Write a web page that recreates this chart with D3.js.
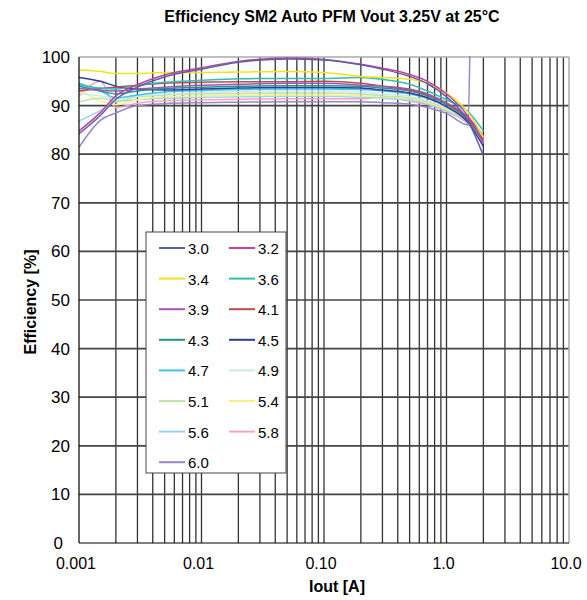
<!DOCTYPE html>
<html>
<head>
<meta charset="utf-8">
<script src="https://cdn.jsdelivr.net/npm/d3@7"></script>
<style>
  body { margin: 0; background: #fff; }
  text { font-family: "Liberation Sans Narrow", "Arial Narrow", "Liberation Sans", sans-serif; fill: #000; }
</style>
</head>
<body>
<svg id="chart" width="587" height="600"></svg>
<script>
// load current axis (A)
var iout = [0.001, 0.0015, 0.002, 0.003, 0.005, 0.01, 0.02, 0.05, 0.1, 0.2, 0.3, 0.5, 0.7, 1.0, 1.5, 2.0];
// 6.0V curve ends with a spike near 1.5A
var iout60 = [0.001, 0.0015, 0.002, 0.003, 0.005, 0.01, 0.02, 0.05, 0.1, 0.2, 0.3, 0.5, 0.7, 1.0, 1.5, 1.55];

var eff30 = [84.2, 88.0, 91.3, 93.8, 95.9, 97.5, 98.9, 99.6, 99.4, 98.4, 97.5, 96.0, 94.5, 91.8, 86.8, 79.7];
var eff32 = [84.8, 88.6, 92.0, 94.3, 96.3, 97.8, 99.1, 99.8, 99.5, 98.5, 97.7, 96.4, 95.0, 92.4, 87.8, 82.4];
var eff34 = [97.3, 97.0, 96.6, 96.6, 96.8, 96.8, 96.9, 97.0, 96.8, 96.0, 95.8, 95.4, 94.6, 92.6, 88.6, 83.5];
var eff36 = [94.3, 93.6, 93.4, 94.2, 94.8, 95.2, 95.5, 95.6, 95.6, 95.8, 95.4, 94.4, 93.0, 91.2, 88.8, 84.8];
var eff39 = [93.5, 93.2, 93.0, 93.4, 93.8, 94.2, 94.4, 94.6, 94.6, 94.2, 94.0, 93.4, 92.4, 90.6, 87.6, 83.8];
var eff41 = [93.0, 93.5, 93.8, 94.2, 94.6, 94.8, 94.9, 94.9, 95.0, 94.6, 94.0, 93.2, 92.2, 90.4, 87.2, 83.0];
var eff43 = [94.0, 93.0, 92.4, 93.0, 93.5, 93.8, 94.0, 94.1, 94.1, 94.0, 93.6, 93.0, 92.0, 90.2, 87.0, 82.5];
var eff45 = [95.8, 95.0, 94.0, 93.4, 93.2, 93.4, 93.6, 93.7, 93.7, 93.6, 93.2, 92.6, 91.6, 89.8, 86.5, 81.6];
var eff47 = [94.6, 93.0, 91.6, 92.2, 92.8, 93.1, 93.3, 93.4, 93.4, 93.3, 93.0, 92.4, 91.5, 89.8, 86.8, 82.8];
var eff49 = [92.5, 92.0, 91.5, 92.0, 92.4, 92.7, 92.9, 93.0, 93.0, 92.8, 92.4, 91.9, 91.0, 89.6, 87.0, 83.2];
var eff51 = [90.8, 91.5, 91.0, 91.8, 92.2, 92.4, 92.5, 92.6, 92.6, 92.4, 92.0, 91.6, 90.8, 89.4, 86.8, 83.0];
var eff54 = [93.2, 91.0, 90.2, 91.2, 91.8, 92.0, 92.1, 92.2, 92.2, 92.0, 91.8, 91.4, 90.6, 89.2, 86.6, 82.8];
var eff56 = [86.8, 89.0, 90.8, 91.2, 91.5, 91.7, 91.8, 91.9, 91.9, 91.7, 91.5, 91.1, 90.4, 89.0, 86.4, 82.5];
var eff58 = [92.0, 95.0, 89.6, 90.5, 91.0, 91.2, 91.3, 91.4, 91.4, 91.4, 91.8, 90.9, 90.2, 88.8, 86.2, 82.2];
var eff60 = [81.4, 87.0, 88.5, 90.0, 90.4, 90.6, 90.7, 90.8, 90.8, 90.8, 90.6, 90.3, 89.6, 88.4, 86.0, 100.5];

var vinLabels = ["3.0", "3.2", "3.4", "3.6", "3.9", "4.1", "4.3", "4.5", "4.7", "4.9", "5.1", "5.4", "5.6", "5.8", "6.0"];
var colors = ["#5b5fa8", "#c0409c", "#f2e21c", "#2fbfb4", "#a455b4", "#b84e52", "#1f9889", "#2d3b9c",
              "#3fc4ee", "#cfe9e7", "#bfe3a8", "#f6ef8a", "#9ad3f2", "#f2a4bc", "#9a86c4"];

var xTicks = [0.001, 0.01, 0.1, 1, 10];
var xTickLabels = ["0.001", "0.01", "0.10", "1.0", "10.0"];
var yTicks = [0, 10, 20, 30, 40, 50, 60, 70, 80, 90, 100];

var series = [
  {x: iout, y: eff30}, {x: iout, y: eff32}, {x: iout, y: eff34}, {x: iout, y: eff36},
  {x: iout, y: eff39}, {x: iout, y: eff41}, {x: iout, y: eff43}, {x: iout, y: eff45},
  {x: iout, y: eff47}, {x: iout, y: eff49}, {x: iout, y: eff51}, {x: iout, y: eff54},
  {x: iout, y: eff56}, {x: iout, y: eff58}, {x: iout60, y: eff60}
];
series.forEach(function(s, i) { s.name = vinLabels[i]; s.color = colors[i]; });

var svg = d3.select("#chart"),
    plotL = 79, plotR = 569, plotT = 57, plotB = 543;

var x = d3.scaleLog().domain([0.001, 10]).range([plotL, plotR]);
var y = d3.scaleLinear().domain([0, 100]).range([plotB, plotT]);

// minor + major vertical grid (1..9 per decade)
var vGrid = [];
for (var e = -3; e < 1; e++) {
  for (var m = 1; m < 10; m++) vGrid.push(m * Math.pow(10, e));
}
vGrid.push(10);

svg.append("g").selectAll("line")
   .data(vGrid.slice(1, -1))
   .enter().append("line")
   .attr("x1", function(d) { return x(d); })
   .attr("x2", function(d) { return x(d); })
   .attr("y1", plotT).attr("y2", plotB)
   .attr("stroke", "#333").attr("stroke-width", 1.3);

svg.append("g").selectAll("line")
   .data(yTicks.slice(1, -1))
   .enter().append("line")
   .attr("x1", plotL).attr("x2", plotR)
   .attr("y1", function(d) { return y(d); })
   .attr("y2", function(d) { return y(d); })
   .attr("stroke", "#444").attr("stroke-width", 1.7);

// light top/right frame
svg.append("line").attr("x1", plotL).attr("x2", plotR).attr("y1", plotT).attr("y2", plotT)
   .attr("stroke", "#aaa").attr("stroke-width", 1.5);
svg.append("line").attr("x1", plotR).attr("x2", plotR).attr("y1", plotT).attr("y2", plotB)
   .attr("stroke", "#aaa").attr("stroke-width", 1.5);

svg.append("defs").append("clipPath").attr("id", "plotClip")
   .append("rect").attr("x", plotL).attr("y", plotT - 1).attr("width", plotR - plotL).attr("height", plotB - plotT + 1);

var line = d3.line()
   .x(function(d) { return x(d[0]); })
   .y(function(d) { return y(d[1]); })
   .curve(d3.curveMonotoneX);

svg.append("g").attr("clip-path", "url(#plotClip)")
   .selectAll("path")
   .data(series.slice().reverse())
   .enter().append("path")
   .attr("d", function(s) { return line(d3.zip(s.x, s.y)); })
   .attr("fill", "none")
   .attr("stroke", function(s) { return s.color; })
   .attr("stroke-width", 1.5);

// axes lines
svg.append("line").attr("x1", plotL).attr("x2", plotL).attr("y1", plotT).attr("y2", plotB)
   .attr("stroke", "#000").attr("stroke-width", 1.2);
svg.append("line").attr("x1", plotL).attr("x2", plotR).attr("y1", plotB).attr("y2", plotB)
   .attr("stroke", "#000").attr("stroke-width", 1.2);

// tick labels
svg.append("g").selectAll("text")
   .data(yTicks)
   .enter().append("text")
   .attr("x", function(d) { return d === 0 ? 63 : 70; })
   .attr("y", function(d) { return y(d) + 6; })
   .attr("text-anchor", "end")
   .style("font-size", "17px")
   .text(function(d) { return d; });

svg.append("g").selectAll("text")
   .data(xTicks)
   .enter().append("text")
   .attr("x", function(d) { return x(d) - 3; })
   .attr("y", 569)
   .attr("text-anchor", "middle")
   .style("font-size", "16px")
   .text(function(d, i) { return xTickLabels[i]; });

// titles
svg.append("text").attr("x", 332).attr("y", 22).attr("text-anchor", "middle")
   .style("font-size", "16px").style("font-weight", "bold")
   .text("Efficiency SM2 Auto PFM Vout 3.25V at 25°C");
svg.append("text").attr("x", 337).attr("y", 592).attr("text-anchor", "middle")
   .style("font-size", "16px").style("font-weight", "bold")
   .text("Iout [A]");
svg.append("text").attr("transform", "translate(36,302) rotate(-90)").attr("text-anchor", "middle")
   .style("font-size", "16px").style("font-weight", "bold")
   .text("Efficiency [%]");

// legend
var legend = svg.append("g");
legend.append("rect").attr("x", 146).attr("y", 232).attr("width", 140).attr("height", 241)
   .attr("fill", "#fff").attr("stroke", "#444").attr("stroke-width", 1);

var item = legend.selectAll("g.item")
   .data(series)
   .enter().append("g")
   .attr("class", "item")
   .attr("transform", function(d, i) {
     return "translate(" + (i % 2 === 0 ? 159 : 229) + "," + (248 + Math.floor(i / 2) * 30.6) + ")";
   });
item.append("line").attr("x1", 0).attr("x2", 26).attr("y1", 0).attr("y2", 0)
    .attr("stroke", function(d) { return d.color; }).attr("stroke-width", 2);
item.append("text").attr("x", 29).attr("y", 6)
    .style("font-size", "15px")
    .text(function(d) { return d.name; });
</script>
</body>
</html>
